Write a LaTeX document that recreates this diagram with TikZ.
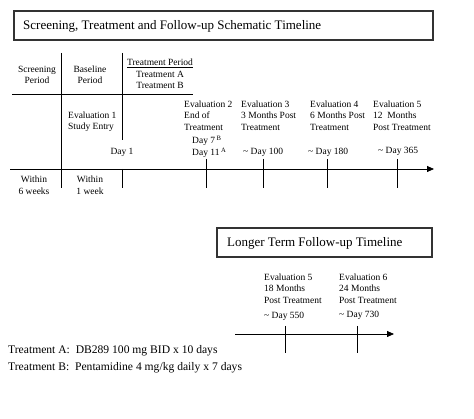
\documentclass[tikz,border=0pt]{standalone}
\usepackage{fontspec}
\setmainfont{Liberation Serif}
\usetikzlibrary{arrows.meta}
\begin{document}
\begin{tikzpicture}[x=1pt,y=-1pt,
  lbl/.style={inner sep=0pt,align=left,anchor=north west,font=\fontsize{9.5}{11.5}\selectfont},
  clbl/.style={inner sep=0pt,align=center,anchor=north,font=\fontsize{9.5}{11}\selectfont},
  titlebox/.style={draw=black!80,line width=1.1pt},
  titletxt/.style={inner sep=0pt,anchor=west,font=\fontsize{13}{15}\selectfont},
  axis/.style={line width=0.8pt,-{Triangle[length=7pt,width=6pt]}},
  tick/.style={line width=0.8pt},
  note/.style={inner sep=0pt,anchor=west,font=\fontsize{11.6}{13}\selectfont}]
\useasboundingbox (0,0) rectangle (474,419);
% title box 1
\draw[titlebox] (14,11) rectangle (433,40);
\node[titletxt] (t1) at (23,26) {Screening, Treatment and Follow-up Schematic Timeline};
% period separators
\coordinate (s1top) at (61,53); \coordinate (s1bot) at (61,188);
\draw[tick] (s1top) -- (s1bot);
\coordinate (s2top) at (122,53); \coordinate (s2bot) at (122,140);
\draw[tick] (s2top) -- (s2bot);
\coordinate (hl) at (12,94); \coordinate (hr) at (193,94);
\draw[tick] (hl) -- (hr);
% headings
\node[clbl] (scr) at (37,66) {Screening\\Period};
\node[clbl] (base) at (90,66) {Baseline\\Period};
\node[clbl,font=\fontsize{9.5}{11.5}\selectfont] (trt) at (160,59) {\underline{Treatment Period}\\Treatment A\\Treatment B};
% evaluations
\node[lbl] (e1) at (68,111.5) {Evaluation 1\\Study Entry};
\node[lbl] (e2) at (184,100.5) {Evaluation 2\\End of\\Treatment};
\node[lbl] (d7) at (192,135.5) {Day 7\,$^{\mathrm{B}}$};
\node[lbl] (d11) at (192,147.5) {Day 11\,$^{\mathrm{A}}$};
\node[lbl] (e3) at (241,100.5) {Evaluation 3\\3 Months Post\\Treatment};
\node[lbl] (e4) at (310,100.5) {Evaluation 4\\6 Months Post\\Treatment};
\node[lbl] (e5) at (373,100.5) {Evaluation 5\\12~~Months\\Post Treatment};
\node[clbl] (d1) at (122,148.5) {Day 1};
\node[lbl] (d100) at (243,147.5) {\textasciitilde\ Day 100};
\node[lbl] (d180) at (308,147.5) {\textasciitilde\ Day 180};
\node[lbl] (d365) at (378,147.5) {\textasciitilde\ Day 365};
% axis 1
\coordinate (a1s) at (10,169); \coordinate (a1e) at (434,169);
\draw[axis] (a1s) -- (a1e);
\coordinate (k1t) at (122,169); \coordinate (k1b) at (122,188);
\draw[tick] (k1t) -- (k1b);
\foreach \x/\n in {206/k2,263/k3,327/k4,397/k5}{
  \coordinate (\n t) at (\x,159); \coordinate (\n b) at (\x,188);
  \draw[tick] (\n t) -- (\n b);
}
\node[clbl,font=\fontsize{9.5}{12.7}\selectfont] (w6) at (34,175.5) {Within\\6 weeks};
\node[clbl,font=\fontsize{9.5}{12.7}\selectfont] (w1) at (90,175.5) {Within\\1 week};
% title box 2
\draw[titlebox] (217,228) rectangle (432,257);
\node[titletxt] (t2) at (227,243) {Longer Term Follow-up Timeline};
\node[lbl] (e5b) at (264,273.5) {Evaluation 5\\18 Months\\Post Treatment};
\node[lbl] (e6) at (339,273.5) {Evaluation 6\\24 Months\\Post Treatment};
\node[lbl] (d550) at (264,311.5) {\textasciitilde\ Day 550};
\node[lbl] (d730) at (339,310.5) {\textasciitilde\ Day 730};
\coordinate (a2s) at (235,334); \coordinate (a2e) at (394,334);
\draw[axis] (a2s) -- (a2e);
\foreach \x/\n in {285/m1,357/m2}{
  \coordinate (\n t) at (\x,326); \coordinate (\n b) at (\x,353);
  \draw[tick] (\n t) -- (\n b);
}
% notes
\node[note] (na) at (8,351) {Treatment A:~~DB289 100 mg BID x 10 days};
\node[note] (nb) at (8,368) {Treatment B:~~Pentamidine 4 mg/kg daily x 7 days};
\end{tikzpicture}
\end{document}
